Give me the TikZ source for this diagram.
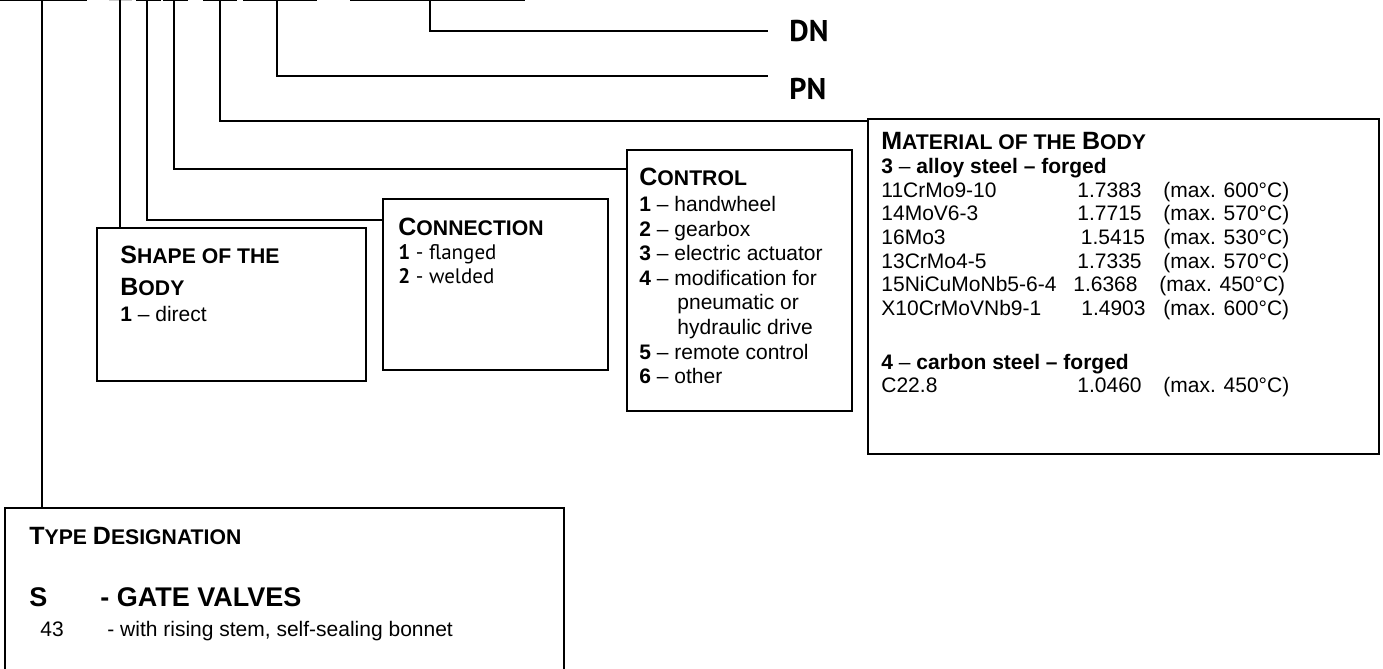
\documentclass[tikz,border=0pt]{standalone}
\usepackage{fontspec}
\setmainfont{Liberation Sans}
\newfontfamily\humfont{PT Sans}
\usetikzlibrary{positioning,fit}

% fake small caps: first letter large, rest small
\newcommand\hsc[2]{{\fontsize{12.5}{14}\selectfont #1}{\fontsize{10.6}{14}\selectfont #2}}
\newcommand\matrow[3]{\makebox[98pt][l]{#1}\makebox[43pt][l]{#2}(max. #3°C)}

\begin{document}
\begin{tikzpicture}[x=0.5pt,y=-0.5pt,
  font=\fontsize{10.5}{12}\selectfont,
  ln/.style={line width=0.9pt},
  frame/.style={draw,line width=0.9pt,inner sep=0pt},
  txt/.style={anchor=north west,align=left,inner sep=0pt},
  code/.style={font=\humfont\bfseries\fontsize{15}{18}\selectfont,anchor=west,inner sep=0pt}]
\useasboundingbox (0,0) rectangle (1383,669);

% --- underlines of the type code (cut at the top edge) ---
\foreach \a/\b in {0/87,136/161,163/188,203/237,243/317,350/525}
  \draw[ln] (\a,0) -- (\b,0);
\draw[ln,gray!40] (109,0) -- (132,0);

\coordinate (pType)  at (42,0);
\coordinate (pShape) at (120,0);
\coordinate (pConn)  at (147,0);
\coordinate (pCtrl)  at (174,0);
\coordinate (pMat)   at (220,0);
\coordinate (pPN)    at (277,0);
\coordinate (pDN)    at (430,0);
\coordinate (eDN)    at (768,31);
\coordinate (ePN)    at (768,76);

% --- frames ---
\node[frame,fit={(97,228) (366,381)}]  (shape) {};
\node[frame,fit={(383,199) (608,370)}] (conn)  {};
\node[frame,fit={(627,150) (852,411)}] (ctrl)  {};
\node[frame,fit={(868,119) (1379,454)}] (mat)  {};
\node[frame,fit={(5,508) (564,690)}]   (type)  {};

% --- texts ---
\node[code,right=10.5pt of eDN] (dn) {DN};
\node[code] (pn) at (789,89) {PN};

\node[txt] (shapetxt) at (120,246) {\bfseries\hsc{S}{HAPE OF THE}\\[4pt]
  \bfseries\hsc{B}{ODY}\\[1pt]
  \textbf{1} -- direct};

\node[txt] (conntxt) at (398,218) {\bfseries\hsc{C}{ONNECTION}\\
  {\humfont\textbf{1} - flanged}\\
  {\humfont\textbf{2} - welded}};

\node[txt,font=\fontsize{10.5}{12.3}\selectfont] (ctrltxt) at (639,168)
  {\bfseries\hsc{C}{ONTROL}\\[0.5pt]
  \textbf{1} -- handwheel\\
  \textbf{2} -- gearbox\\
  \textbf{3} -- electric actuator\\
  \textbf{4} -- modification for\\
  \hspace*{19pt}pneumatic or\\
  \hspace*{19pt}hydraulic drive\\
  \textbf{5} -- remote control\\
  \textbf{6} -- other};

\node[txt,font=\fontsize{10.5}{11.85}\selectfont] (mattxt) at (881,132)
  {\bfseries\hsc{M}{ATERIAL OF THE }\hsc{B}{ODY}\\
  \textbf{3} -- \textbf{alloy steel -- forged}\\
  \matrow{11CrMo9-10}{1.7383}{600}\\
  \matrow{14MoV6-3}{1.7715}{570}\\
  \matrow{16Mo3}{\,1.5415}{530}\\
  \matrow{13CrMo4-5}{1.7335}{570}\\
  \makebox[96pt][l]{15NiCuMoNb5-6-4}\makebox[43pt][l]{1.6368}(max. 450°C)\\
  \makebox[100pt][l]{X10CrMoVNb9-1}\makebox[41pt][l]{1.4903}(max. 600°C)\\[15pt]
  \textbf{4} -- \textbf{carbon steel -- forged}\\
  \matrow{C22.8}{1.0460}{450}};

\node[txt] (typetxt) at (29,527) {\bfseries\hsc{T}{YPE }\hsc{D}{ESIGNATION}};
\node[txt,font=\bfseries\fontsize{13.5}{15}\selectfont] (gate) at (29,587)
  {\makebox[35.5pt][l]{S}- GATE VALVES};
\node[txt] (rising) at (40,621) {\makebox[33.5pt][l]{43}- with rising stem, self-sealing bonnet};

% --- connectors ---
\draw[ln] (pType)  -- (pType |- type.north);
\draw[ln] (pShape) -- (pShape |- shape.north);
\draw[ln] (pConn)  |- ([yshift=-11pt]conn.north west);
\draw[ln] (pCtrl)  |- ([yshift=-10pt]ctrl.north west);
\draw[ln] (pMat)   |- ([yshift=-1.5pt]mat.north west);
\draw[ln] (pPN)    |- (ePN);
\draw[ln] (pDN)    |- (eDN);
\end{tikzpicture}
\end{document}
